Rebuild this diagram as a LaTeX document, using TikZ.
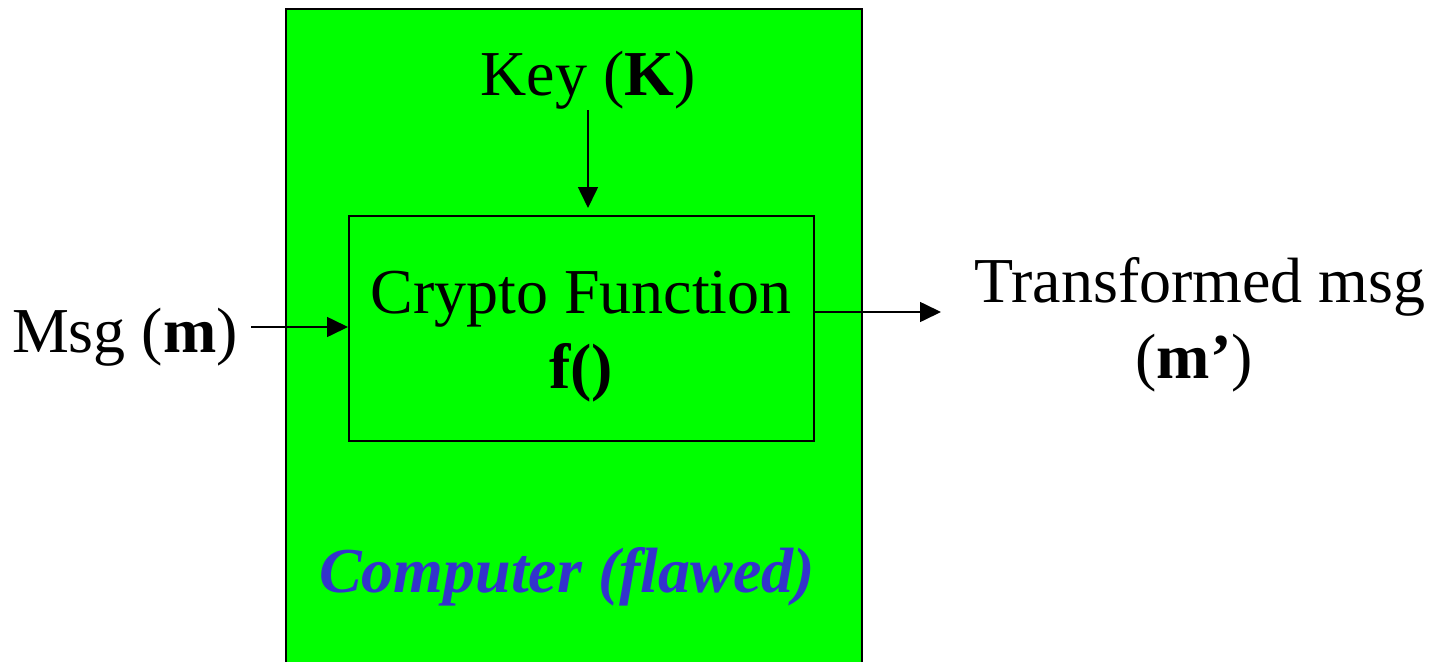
\documentclass[tikz,border=0pt]{standalone}
\usepackage{fontspec}
\setmainfont{Liberation Serif}
\usetikzlibrary{arrows.meta}
\definecolor{boxgreen}{HTML}{00FF00}
\definecolor{labelblue}{HTML}{3333CC}
\tikzset{
  big/.style={font=\fontsize{64}{76}\selectfont, inner sep=0pt, anchor=base},
  frame/.style={draw=black, line width=2pt},
  arr/.style={line width=1.6pt, -{Triangle[length=21pt,width=20pt]}},
}
\begin{document}
\begin{tikzpicture}[x=1pt,y=-1pt]
  \useasboundingbox (0,0) rectangle (1431,661);
  % the computer enclosure (runs past the lower edge)
  \node[frame, fill=boxgreen, minimum width=576pt, minimum height=700pt,
        anchor=north west, inner sep=0pt] (computer) at (285,8) {};
  % crypto function block
  \node[frame, minimum width=465pt, minimum height=225pt,
        anchor=north west, inner sep=0pt] (crypto) at (348,215) {};
  \node[big] (ftitle) at (581,313) {Crypto Function};
  \node[big] (fname) at (581,388) {\textbf{f()}};
  % key input
  \node[big] (key) at (588,95) {Key (\textbf{K})};
  % message input and output
  \node[big, anchor=base east] (msg) at (238,352) {Msg (\textbf{m})};
  \node[big] (out1) at (1200,302) {Transformed msg};
  \node[big] (out2) at (1194,378) {(\textbf{m’})};
  % enclosure label
  \node[big, text=labelblue] (comp) at (567,592)
       {\textbf{\textit{Computer (flawed)}}};
  % connector ends
  \coordinate (keytail) at (588,110);
  \coordinate (keytip) at (588,208);
  \coordinate (msgtail) at (251,327);
  \coordinate (outtip) at (941,312);
  \draw[arr] (keytail) -- (keytip);
  \draw[arr] (msgtail) -- (crypto.west |- msgtail);
  \draw[arr] (crypto.east |- outtip) -- (outtip);
\end{tikzpicture}
\end{document}
